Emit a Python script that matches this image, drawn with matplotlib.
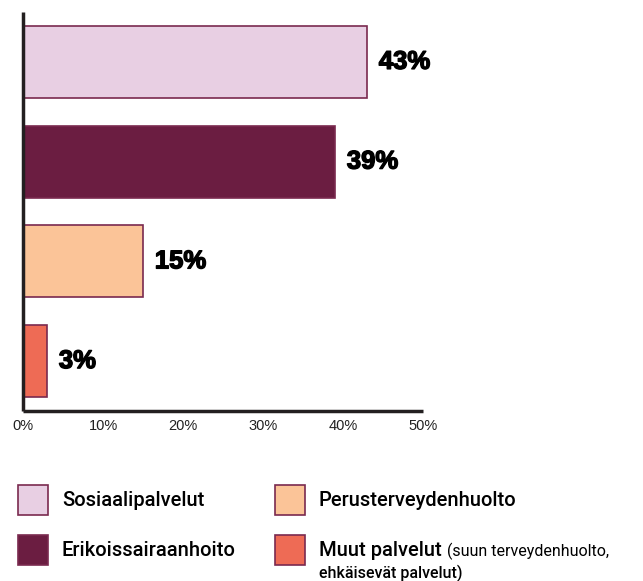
import matplotlib.pyplot as plt
import matplotlib.patheffects as pe
from matplotlib.patches import Rectangle

# service categories and their share of costs
categories = ['Sosiaalipalvelut', 'Erikoissairaanhoito', 'Perusterveydenhuolto', 'Muut palvelut']
shares = [43, 39, 15, 3]
colors = ['#E8CFE3', '#6B1D41', '#FBC498', '#EE6B55']
ticks = [0, 10, 20, 30, 40, 50]
tick_labels = ['0%', '10%', '20%', '30%', '40%', '50%']
extra_note = '(suun terveydenhuolto,'
extra_note2 = 'ehkäisevät palvelut)'

EDGE = '#7A2A4F'
SPINE = '#231F20'

fig = plt.figure(figsize=(6.43, 5.81), dpi=100)
ax = fig.add_axes([23 / 643, 1 - 411 / 581, 400 / 643, 399 / 581])

ypos = list(range(len(categories)))
ax.barh(ypos, shares, height=0.72, color=colors, edgecolor=EDGE, linewidth=1.2)

for y, v in zip(ypos, shares):
    ax.annotate(f'{v}%', xy=(v, y), xytext=(8.5, 0), textcoords='offset points',
                va='center', ha='left', fontsize=18.5, fontweight='bold',
                family='Liberation Sans', color='black',
                path_effects=[pe.withStroke(linewidth=1.0, foreground='black')])

ax.set_xlim(0, 50)
ax.set_ylim(3.5, -0.5)
ax.set_xticks(ticks)
ax.set_xticklabels(tick_labels, family='Liberation Sans', fontsize=10.5, color='#222222')
ax.set_yticks([])
ax.tick_params(axis='x', length=0, pad=6)
for s in ['top', 'right']:
    ax.spines[s].set_visible(False)
for s in ['left', 'bottom']:
    ax.spines[s].set_linewidth(2.5)
    ax.spines[s].set_color(SPINE)
    ax.spines[s].set_capstyle('butt')

# legend built by hand, two columns
W, H = 643, 581
col_x = [18, 275]
row_y = [485, 535]
for i, (lab, c) in enumerate(zip(categories, colors)):
    cx = col_x[i // 2]
    ry = row_y[i % 2]
    fig.patches.append(Rectangle((cx / W, 1 - (ry + 30) / H), 30 / W, 30 / H,
                                 transform=fig.transFigure, facecolor=c,
                                 edgecolor=EDGE, linewidth=1.2))
    t = fig.text((cx + 44) / W, 1 - (ry + 15) / H, lab, fontsize=14.5,
                 family='Roboto', fontweight='medium', va='center', ha='left')
    if i == 3:
        fig.canvas.draw()
        bb = t.get_window_extent()
        fig.text((bb.x1 + 5) / W, 1 - (ry + 16) / H, extra_note, fontsize=11.5,
                 family='Roboto', va='center', ha='left')
        fig.text((cx + 44) / W, 1 - (ry + 38) / H, extra_note2, fontsize=11.5,
                 family='Roboto', fontweight='medium', va='center', ha='left')

fig.savefig('out.png', dpi=100)
